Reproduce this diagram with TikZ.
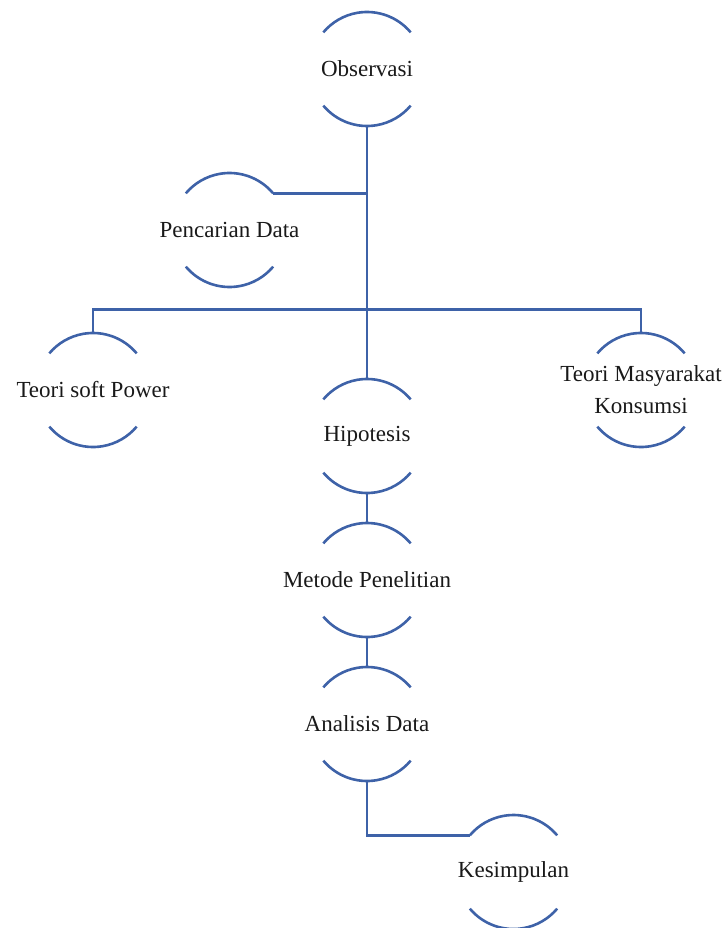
\documentclass[tikz,border=0pt]{standalone}
\usepackage{fontspec}
\setmainfont{Liberation Serif}
\definecolor{lineblue}{RGB}{62,98,168}
\definecolor{txtcol}{RGB}{25,25,25}
\tikzset{
  ring/.style={circle, minimum size=114pt, inner sep=0pt, outer sep=0pt, draw=none},
  txt/.style={text=txtcol, font=\fontsize{23}{32}\selectfont, inner sep=0pt},
  arcline/.style={draw=lineblue, line width=2.6pt},
  conn/.style={draw=lineblue, line width=2.7pt, line join=miter}
}
\begin{document}
\begin{tikzpicture}[x=1pt,y=1pt]
\useasboundingbox (0,0) rectangle (725,-928);
\node[ring, label={[txt]center:Observasi}] (obs) at (367,-69) {};
\node[ring, label={[txt]center:Pencarian Data}] (pen) at (229.5,-230) {};
\node[ring, label={[txt]center:Teori soft Power}] (tsp) at (93,-390) {};
\node[ring, label={[txt,align=center]center:Teori Masyarakat\\Konsumsi}] (tmk) at (641,-390) {};
\node[ring, label={[txt]center:Hipotesis}] (hip) at (367,-436) {};
\node[ring, label={[txt]center:Metode Penelitian}] (met) at (367,-580) {};
\node[ring, label={[txt]center:Analisis Data}] (ana) at (367,-724) {};
\node[ring, label={[txt]center:Kesimpulan}] (kes) at (513.5,-872) {};
\foreach \n in {obs,pen,tsp,tmk,hip,met,ana,kes}{
  \draw[arcline] (\n.40) arc[start angle=40, end angle=140, radius=57pt];
  \draw[arcline] (\n.220) arc[start angle=220, end angle=320, radius=57pt];
}
\coordinate (bar) at (367,-309.5);
\draw[conn] (obs.south) -- (hip.north);
\draw[conn] (pen.40) -- (pen.40 -| obs.south);
\draw[conn] (tsp.north) |- (bar) -| (tmk.north);
\draw[conn] (hip.south) -- (met.north);
\draw[conn] (met.south) -- (ana.north);
\draw[conn] (ana.south) |- (kes.140);
\end{tikzpicture}
\end{document}
